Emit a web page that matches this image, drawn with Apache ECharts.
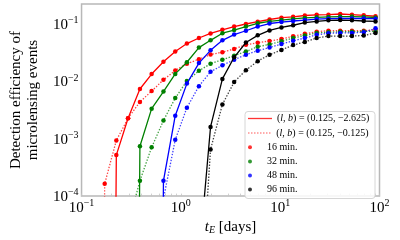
<!DOCTYPE html>
<html><head><meta charset="utf-8">
<script src="https://cdn.jsdelivr.net/npm/echarts@6/dist/echarts.min.js"></script>
<style>html,body{margin:0;padding:0;background:#fff}#c{width:400px;height:240px}</style>
</head><body><div id="c"></div><script>
// ---- data ----
const tE = [0.13, 0.171, 0.224, 0.294, 0.387, 0.508, 0.668, 0.878, 1.15, 1.52, 1.99, 2.62, 3.44, 4.52, 5.94, 7.81, 10.3, 13.5, 17.7, 23.3, 30.6, 40.2, 52.8, 69.4, 91.2];

// (l,b) = (0.125, -2.625): solid lines
const eff16_south = [0, 0, 5.2e-4, 2.28e-3, 7.4e-3, 1.35e-2, 2.21e-2, 3.35e-2, 4.6e-2, 5.75e-2, 6.9e-2, 8.0e-2, 9.1e-2, 0.101, 0.111, 0.121, 0.130, 0.135, 0.142, 0.146, 0.147, 0.151, 0.147, 0.143, 0.138];
const eff32_south = [0, 0, 0, 0, 7.4e-4, 3.36e-3, 6.67e-3, 1.36e-2, 2.17e-2, 3.91e-2, 5.24e-2, 6.98e-2, 7.9e-2, 9.1e-2, 0.104, 0.112, 0.118, 0.124, 0.129, 0.132, 0.134, 0.136, 0.136, 0.134, 0.131];
const eff48_south = [0, 0, 0, 0, 0, 0, 1.85e-4, 2.53e-3, 9.2e-3, 2.1e-2, 3.5e-2, 5.24e-2, 6.6e-2, 7.7e-2, 9.1e-2, 0.103, 0.109, 0.114, 0.118, 0.123, 0.125, 0.126, 0.126, 0.126, 0.125];
const eff96_south = [0, 0, 0, 0, 0, 0, 0, 0, 0, 8e-6, 1.61e-3, 1.11e-2, 2.65e-2, 4.8e-2, 6.4e-2, 7.8e-2, 8.8e-2, 9.6e-2, 0.107, 0.112, 0.117, 0.118, 0.117, 0.114, 0.112];

// (l,b) = (0.125, -0.125): dotted lines
const eff16_center = [0, 1.64e-4, 9.35e-4, 2.28e-3, 4.41e-3, 6.8e-3, 1.07e-2, 1.56e-2, 2.05e-2, 2.45e-2, 2.95e-2, 3.26e-2, 3.7e-2, 4.4e-2, 4.75e-2, 5.1e-2, 5.53e-2, 6.16e-2, 6.79e-2, 7.43e-2, 7.71e-2, 7.71e-2, 7.71e-2, 7.71e-2, 8.0e-2];
const eff32_center = [0, 0, 0, 3.1e-5, 1.85e-4, 7.1e-4, 2.09e-3, 5.14e-3, 1.02e-2, 1.54e-2, 2.04e-2, 2.41e-2, 2.82e-2, 3.34e-2, 4.06e-2, 4.44e-2, 5.04e-2, 5.75e-2, 6.36e-2, 7.06e-2, 7.26e-2, 7.4e-2, 7.4e-2, 7.5e-2, 7.5e-2];
const eff48_center = [0, 0, 0, 0, 0, 0, 9e-5, 9.6e-4, 3.49e-3, 8.3e-3, 1.48e-2, 1.92e-2, 2.41e-2, 2.93e-2, 3.45e-2, 3.92e-2, 4.52e-2, 5.14e-2, 5.75e-2, 6.53e-2, 6.98e-2, 7.06e-2, 7.06e-2, 7.25e-2, 8.47e-2];
const eff96_center = [0, 0, 0, 0, 0, 0, 0, 0, 0, 5e-7, 6.5e-4, 3.98e-3, 9.8e-3, 1.58e-2, 2.27e-2, 2.93e-2, 3.56e-2, 4.32e-2, 4.92e-2, 5.75e-2, 6.21e-2, 6.21e-2, 6.21e-2, 6.36e-2, 7.06e-2];

const cadences = ['16 min.', '32 min.', '48 min.', '96 min.'];
const fields = ['(l, b) = (0.125, \u22122.625)', '(l, b) = (0.125, \u22120.125)'];
const xTickValues = [0.1, 0.2, 0.3, 0.4, 0.5, 0.6, 0.7, 0.8, 0.9, 1, 2, 3, 4, 5, 6, 7, 8, 9, 10, 20, 30, 40, 50, 60, 70, 80, 90, 100];
const xMajorTicks = [0.1, 1, 10, 100];
const yMajorTicks = [1e-4, 1e-3, 1e-2, 1e-1];

// ---- styling ----
const SERIF = '"Liberation Serif", "DejaVu Serif", serif';
const colors = ['#ff0000', '#008000', '#0000ff', '#000000'];
const ZERO_ON_LOG = 1e-30; // zero efficiency drawn far below the log axis (like matplotlib clipping)

const southSets = [eff16_south, eff32_south, eff48_south, eff96_south];
const centerSets = [eff16_center, eff32_center, eff48_center, eff96_center];

function pairs(vals) { return vals.map((v, i) => [tE[i], v > 0 ? v : ZERO_ON_LOG]); }

function powLabel(v, majors) {
  const e = Math.log10(v), r = Math.round(e);
  if (Math.abs(e - r) > 1e-6) return '';
  const sup = r < 0 ? '\u2212' + (-r) : String(r);
  return '{b|10}{s|' + sup + '}';
}
const labelRich = {
  b: { fontFamily: SERIF, fontSize: 15, lineHeight: 17, verticalAlign: 'bottom', color: '#000' },
  s: { fontFamily: SERIF, fontSize: 10, lineHeight: 10, verticalAlign: 'top', color: '#000' }
};

const series = [];
cadences.forEach((c, k) => {
  series.push({
    name: c + ' ' + fields[0], type: 'line', data: pairs(southSets[k]),
    symbol: 'circle', symbolSize: 4.5, clip: true, z: 3,
    lineStyle: { color: colors[k], width: 1.3 },
    itemStyle: { color: colors[k] }
  });
  series.push({
    name: c + ' ' + fields[1], type: 'line', data: pairs(centerSets[k]),
    symbol: 'circle', symbolSize: 4.5, clip: true, z: 2,
    lineStyle: { color: colors[k], width: 1.3, type: [1.4, 1.6], opacity: 0.75 },
    itemStyle: { color: colors[k] }
  });
});
// legend-only entries
fields.forEach((f) => series.push({ name: f, type: 'scatter', data: [], itemStyle: { color: '#ff0000' } }));
cadences.forEach((c, k) => series.push({ name: c, type: 'scatter', data: [], itemStyle: { color: colors[k] } }));

let dotted = 'path://';
for (let x = 0; x < 24; x += 3) dotted += 'M' + x + ',0h1.5v1.3h-1.5z';
const legendNames = fields.concat(cadences);
const legendIcons = ['path://M0,0h24v1.3h-24z', dotted, 'circle', 'circle', 'circle', 'circle'];
const legendColors = ['#ff0000', 'rgba(255,0,0,0.55)'];
const legendRowY = [118.5, 133, 147.3, 161.5, 175.5, 189.5];
const legends = legendNames.map((n, i) => ({
  left: 248, top: legendRowY[i] - 6, padding: 0, itemGap: 0,
  itemWidth: 24, itemHeight: i < 2 ? 1.3 : 4,
  selectedMode: false, z: 6,
  data: [{ name: n, icon: legendIcons[i], itemStyle: i < 2 ? { color: legendColors[i] } : undefined }],
  formatter: (name) => name.replace('(l, b)', '({i|l}, {i|b})'),
  textStyle: { fontFamily: SERIF, fontSize: 10, lineHeight: 12, color: '#000',
    rich: { i: { fontFamily: SERIF, fontSize: 10, fontStyle: 'italic', color: '#000' } } }
}));

const chart = echarts.init(document.getElementById('c'), null, { renderer: 'canvas' });
chart.setOption({
  animation: false,
  backgroundColor: '#fff',
  grid: { left: 60, top: 4, width: 319.5, height: 199.5, show: true, borderColor: '#b8b8b8', borderWidth: 1.5 },
  xAxis: {
    type: 'log', logBase: 10, min: 0.1, max: 100,
    axisLine: { show: false }, splitLine: { show: false },
    axisTick: { show: true, inside: true, length: 2.5, customValues: xTickValues, lineStyle: { color: '#c4c4c4', width: 0.8 } },
    axisLabel: { margin: 2, formatter: (v) => powLabel(v, xMajorTicks), rich: labelRich },
    name: '{it|t}{sub|E} [days]', nameLocation: 'middle', nameGap: 18,
    nameTextStyle: { fontFamily: SERIF, fontSize: 15, color: '#000',
      rich: { it: { fontFamily: SERIF, fontSize: 15, fontStyle: 'italic', color: '#000' },
              sub: { fontFamily: SERIF, fontSize: 10, fontStyle: 'italic', verticalAlign: 'bottom', color: '#000' } } }
  },
  yAxis: {
    type: 'log', logBase: 10, min: 1e-4, max: 0.2256,
    axisLine: { show: false }, splitLine: { show: false }, axisTick: { show: false },
    axisLabel: { margin: 3, formatter: (v) => powLabel(v, yMajorTicks), rich: labelRich },
    name: 'Detection efficiency of\nmicrolensing events', nameLocation: 'middle', nameGap: 25, nameRotate: 90,
    nameTextStyle: { fontFamily: SERIF, fontSize: 15, lineHeight: 17, color: '#000' }
  },
  legend: legends,
  graphic: [{
    type: 'rect', z: 5, shape: { x: 245, y: 111.5, width: 130, height: 87, r: 3 },
    style: { fill: 'rgba(255,255,255,0.85)', stroke: '#d6d6d6', lineWidth: 1 }
  }],
  series: series
});
</script></body></html>
